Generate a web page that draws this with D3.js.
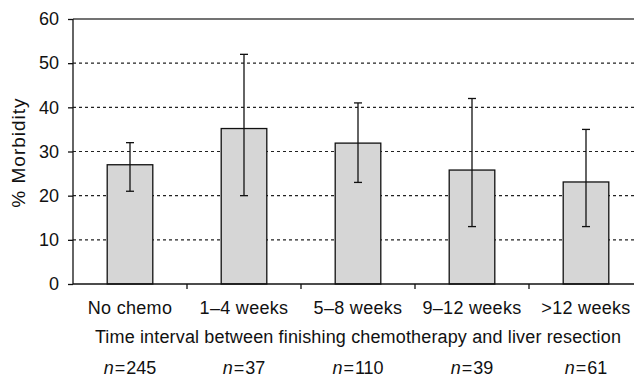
<!DOCTYPE html>
<html><head><meta charset="utf-8">
<script src="https://cdn.jsdelivr.net/npm/d3@7"></script>
<style>body{margin:0;background:#fff}svg{display:block}text{font-family:"Liberation Sans",Arial,sans-serif;fill:#111}</style>
</head><body><svg id="c" width="634" height="378"></svg>
<script>
const categories = ["No chemo","1\u20134 weeks","5\u20138 weeks","9\u201312 weeks",">12 weeks"];
const values = [27, 35.2, 31.9, 25.8, 23.1];
const errLow = [21, 20, 23, 13, 13];
const errHigh = [32, 52, 41, 42, 35];
const nCounts = ["245","37","110","39","61"];
const yTicks = [0,10,20,30,40,50,60];

(function(){
const svg = d3.select("#c");
const mLeft = 73, mRight = 643, mTop = 19, mBottom = 284;
const x = d3.scaleBand().domain(categories).range([mLeft, mRight]).paddingInner(0.6).paddingOuter(0.3);
const y = d3.scaleLinear().domain([0,60]).range([mBottom, mTop]);
const fs = 18;

// gridlines
svg.append("g").selectAll("line").data(yTicks.filter(t => t>0 && t<60)).join("line")
  .attr("x1", mLeft).attr("x2", 634).attr("y1", d=>y(d)).attr("y2", d=>y(d))
  .attr("stroke","#222").attr("stroke-width",1.1).attr("stroke-dasharray","3,3");
// top frame line
svg.append("line").attr("x1", mLeft).attr("x2", 634).attr("y1", y(60)).attr("y2", y(60))
  .attr("stroke","#444").attr("stroke-width",1.4);

// bars
const idx = d3.range(categories.length);
svg.append("g").selectAll("rect").data(idx).join("rect")
  .attr("x", i=>x(categories[i])).attr("width", x.bandwidth())
  .attr("y", i=>y(values[i])).attr("height", i=>y(0)-y(values[i]))
  .attr("fill","#d6d6d6").attr("stroke","#111").attr("stroke-width",1.3);

// error bars
const eg = svg.append("g").attr("stroke","#111").attr("stroke-width",1.3);
idx.forEach(i => {
  const cx = x(categories[i]) + x.bandwidth()/2;
  eg.append("line").attr("x1",cx).attr("x2",cx).attr("y1",y(errLow[i])).attr("y2",y(errHigh[i]));
  eg.append("line").attr("x1",cx-4).attr("x2",cx+4).attr("y1",y(errLow[i])).attr("y2",y(errLow[i]));
  eg.append("line").attr("x1",cx-4).attr("x2",cx+4).attr("y1",y(errHigh[i])).attr("y2",y(errHigh[i]));
});

// y axis
const yAxis = d3.axisLeft(y).tickValues(yTicks).tickSize(5).tickPadding(9).tickFormat(d3.format("d"));
const ya = svg.append("g").attr("transform",`translate(${mLeft},0)`).call(yAxis);
ya.select(".domain").attr("stroke","#111").attr("stroke-width",1.3).attr("d",`M0,${mTop}V${mBottom}`);
ya.selectAll(".tick line").attr("stroke","#111").attr("stroke-width",1.3);
ya.selectAll(".tick text").attr("font-size",fs).attr("font-family",null).attr("fill","#111");

// x axis
const xAxis = d3.axisBottom(x).tickSize(0).tickPadding(0).tickFormat(()=>"");
const xa = svg.append("g").attr("transform",`translate(0,${mBottom})`).call(xAxis);
xa.select(".domain").attr("stroke","#111").attr("stroke-width",1.3).attr("d",`M${mLeft},0H634`);
// boundary ticks
svg.append("g").selectAll("line").data(idx.slice(1)).join("line")
  .attr("x1", i=>x(categories[i]) - x.step()*x.paddingInner()/2)
  .attr("x2", i=>x(categories[i]) - x.step()*x.paddingInner()/2)
  .attr("y1", mBottom).attr("y2", mBottom+5).attr("stroke","#111").attr("stroke-width",1.3);

// category labels
svg.append("g").selectAll("text").data(idx).join("text")
  .attr("x", i=>x(categories[i]) + x.bandwidth()/2).attr("y", 314)
  .attr("text-anchor","middle").attr("font-size",fs).attr("letter-spacing",0.3).text(i=>categories[i]);

// axis title
svg.append("text").attr("x",(mLeft+mRight)/2).attr("y",343).attr("text-anchor","middle")
  .attr("font-size",fs).attr("letter-spacing",0.15).text("Time interval between finishing chemotherapy and liver resection");

// n labels
const nl = svg.append("g").selectAll("text").data(idx).join("text")
  .attr("x", i=>x(categories[i]) + x.bandwidth()/2).attr("y", 374)
  .attr("text-anchor","middle").attr("font-size",fs);
nl.append("tspan").attr("font-style","italic").text("n");
nl.append("tspan").attr("dx",1).text("=");
nl.append("tspan").attr("dx",1).text(i=>nCounts[i]);

// y label
svg.append("text").attr("transform",`translate(25,${(98+207)/2}) rotate(-90)`)
  .attr("text-anchor","middle").attr("font-size",19).attr("letter-spacing",1).text("% Morbidity");
})();
</script></body></html>
